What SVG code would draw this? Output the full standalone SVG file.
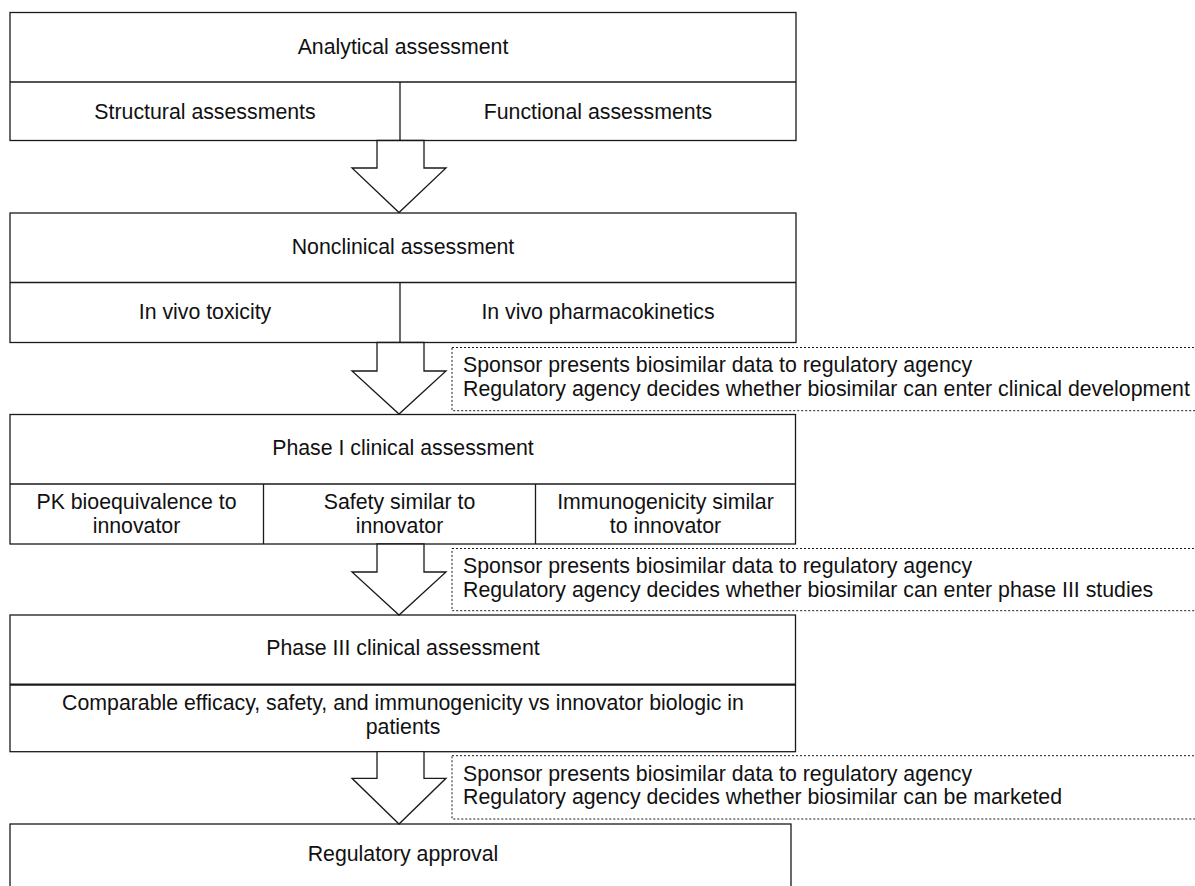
<svg xmlns="http://www.w3.org/2000/svg" width="1195" height="886" viewBox="0 0 1195 886">
<style>
.box{fill:#fff;stroke:#1a1a1a;stroke-width:1.3}
.div{stroke:#1a1a1a;stroke-width:1.3;fill:none}
.div2{stroke:#1a1a1a;stroke-width:2.2;fill:none}
.arr{fill:#fff;stroke:#1a1a1a;stroke-width:1.3;stroke-linejoin:miter}
.note{fill:#fff;stroke:#1a1a1a;stroke-width:1;stroke-dasharray:2,2}
text{font-family:"Liberation Sans",Arial,sans-serif;font-size:21.3px;fill:#111}
.c{text-anchor:middle}
</style>
<rect width="1195" height="886" fill="#fff"/>
<g id="analytical">
<rect class="box" x="10" y="12.5" width="786" height="128"/>
<line class="div" x1="10" y1="82" x2="796" y2="82"/>
<line class="div" x1="400" y1="82" x2="400" y2="140.5"/>
<text class="c" x="403" y="53.5">Analytical assessment</text>
<text class="c" x="205" y="118.5">Structural assessments</text>
<text class="c" x="598" y="118.5">Functional assessments</text>
</g>
<g id="nonclinical">
<rect class="box" x="10" y="213" width="786" height="129.5"/>
<line class="div" x1="10" y1="282.5" x2="796" y2="282.5"/>
<line class="div" x1="400" y1="282.5" x2="400" y2="342.5"/>
<text class="c" x="403" y="253.5">Nonclinical assessment</text>
<text class="c" x="205" y="318.5">In vivo toxicity</text>
<text class="c" x="598" y="318.5">In vivo pharmacokinetics</text>
</g>
<g id="phase1">
<rect class="box" x="10" y="414.5" width="785.5" height="129.5"/>
<line class="div" x1="10" y1="484" x2="795.5" y2="484"/>
<line class="div" x1="263.5" y1="484" x2="263.5" y2="544"/>
<line class="div" x1="535.5" y1="484" x2="535.5" y2="544"/>
<text class="c" x="403" y="455">Phase I clinical assessment</text>
<text class="c" x="136.5" y="508.5">PK bioequivalence to</text>
<text class="c" x="136.5" y="532.5">innovator</text>
<text class="c" x="399.5" y="508.5">Safety similar to</text>
<text class="c" x="399.5" y="532.5">innovator</text>
<text class="c" x="665.5" y="508.5">Immunogenicity similar</text>
<text class="c" x="665.5" y="532.5">to innovator</text>
</g>
<g id="phase3">
<rect class="box" x="10" y="615" width="785.5" height="136.7"/>
<line class="div2" x1="10" y1="684.7" x2="795.5" y2="684.7"/>
<text class="c" x="403" y="655">Phase III clinical assessment</text>
<text class="c" x="403" y="710">Comparable efficacy, safety, and immunogenicity vs innovator biologic in</text>
<text class="c" x="403" y="734">patients</text>
</g>
<g id="approval">
<rect class="box" x="10" y="824" width="781" height="90"/>
<text class="c" x="403" y="860.7">Regulatory approval</text>
</g>
<g id="note1">
<rect class="note" x="452" y="347.5" width="800" height="63.2"/>
<text x="463" y="371.5">Sponsor presents biosimilar data to regulatory agency</text>
<text x="463" y="396">Regulatory agency decides whether biosimilar can enter clinical development</text>
</g>
<g id="note2">
<rect class="note" x="452" y="548.5" width="800" height="62.2"/>
<text x="463" y="573">Sponsor presents biosimilar data to regulatory agency</text>
<text x="463" y="597">Regulatory agency decides whether biosimilar can enter phase III studies</text>
</g>
<g id="note3">
<rect class="note" x="452" y="755.7" width="800" height="63.3"/>
<text x="463" y="780.7">Sponsor presents biosimilar data to regulatory agency</text>
<text x="463" y="804">Regulatory agency decides whether biosimilar can be marketed</text>
</g>
<g id="connectors">
<polygon class="arr" points="377,140.5 424,140.5 424,168 446,168 399,212.5 352,168 377,168"/>
<polygon class="arr" points="377,342.5 424,342.5 424,371 446,371 399,414 352,371 377,371"/>
<polygon class="arr" points="377,544 424,544 424,572 446,572 399,615 352,572 377,572"/>
<polygon class="arr" points="377,751.7 424,751.7 424,778.3 446,778.3 399,824 352,778.3 377,778.3"/>
</g>
</svg>
